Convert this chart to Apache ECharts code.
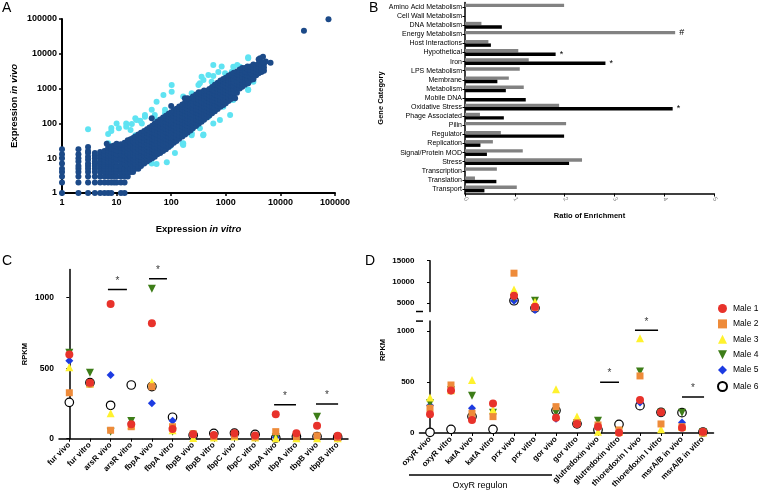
<!DOCTYPE html>
<html><head><meta charset="utf-8">
<script src="https://cdn.jsdelivr.net/npm/echarts@6/dist/echarts.min.js"></script>
<style>html,body{margin:0;padding:0;background:#fff}#c{width:760px;height:498px}</style>
</head><body><div id="c"></div>
<script>
const FONT = 'Liberation Sans, Arial, sans-serif';

// ---------- Panel A : expression in vitro vs in vivo (log-log) ----------
const aDarkCols = [
  [1, [1, 2, 3, 4, 5, 7, 10, 13, 18]],
  [2, [1, 2, 3, 4, 5, 6, 8, 10, 13, 18]],
  [3, [1, 2, 3, 4, 5, 6, 7, 9, 11, 14, 16, 21]],
  [4, [1, 2, 3, 4, 5, 6, 7, 8, 10, 12, 14]],
  [5, [1, 2, 3, 4, 5, 6, 7, 8, 10, 12, 15]],
  [6, [1, 2, 3, 4, 5, 6, 7, 8, 9, 11, 13, 16]],
  [7, [1, 2, 3, 4, 5, 6, 7, 8, 10, 12, 14, 17, 20]],
  [8, [1, 2, 3, 4, 5, 6, 7, 8, 10, 12, 15, 19, 22]],
  [9, [2, 3, 4, 5, 6, 7, 9, 11, 14, 18, 23]],
  [10, [2, 3, 4, 5, 6, 8, 10, 13, 17, 22, 26]],
  [12, [1, 2, 3, 4, 5, 6, 8, 10, 13, 16, 20, 25]],
  [14, [1, 2, 3, 4, 5, 7, 9, 12, 15, 19, 24, 28]],
  [16, [3, 4, 5, 6, 8, 10, 13, 16, 20, 26, 33]],
  [18, [4, 5, 7, 9, 11, 14, 18, 22, 28, 35]],
  [20, [4, 5, 6, 8, 10, 12, 15, 19, 24, 30, 38]],
  [22, [5, 6, 7, 9, 11, 14, 17, 21, 27, 34, 42]],
  [25, [5, 6, 8, 10, 12, 15, 19, 24, 30, 38, 48]],
  [28, [6, 7, 9, 11, 14, 17, 21, 27, 34, 43, 54]],
  [32, [7, 8, 10, 12, 15, 19, 24, 30, 38, 48, 60]],
  [36, [8, 10, 12, 14, 18, 22, 27, 34, 43, 54, 68]],
  [40, [9, 11, 13, 16, 20, 25, 31, 39, 49, 61, 76]],
  [45, [10, 12, 15, 19, 23, 29, 36, 45, 56, 70, 86]],
  [50, [11, 14, 17, 21, 26, 33, 41, 52, 65, 81, 100]],
  [56, [13, 16, 20, 25, 31, 38, 48, 60, 75, 94, 114]],
  [63, [14, 18, 22, 28, 35, 44, 55, 69, 86, 108, 130]],
  [71, [16, 20, 25, 32, 40, 50, 62, 78, 97, 122, 148]],
  [80, [18, 23, 29, 36, 45, 56, 70, 88, 110, 138, 165]],
  [90, [21, 26, 33, 41, 52, 65, 81, 101, 126, 158, 188]],
  [100, [24, 30, 38, 47, 59, 74, 93, 116, 145, 180, 210]],
  [112, [28, 35, 43, 54, 67, 84, 105, 131, 164, 205, 240]],
  [125, [31, 39, 49, 61, 76, 95, 119, 149, 186, 230, 265]],
  [140, [36, 45, 56, 70, 88, 110, 138, 172, 215, 265, 305]],
  [160, [42, 52, 65, 82, 102, 128, 160, 200, 250, 310, 350]],
  [180, [48, 60, 75, 94, 118, 148, 185, 231, 289, 355, 400]],
  [200, [55, 69, 86, 108, 135, 169, 211, 264, 330, 400, 450]],
  [225, [63, 79, 99, 124, 155, 194, 243, 304, 380, 460, 515]],
  [250, [73, 91, 114, 143, 179, 224, 280, 350, 437, 530, 590]],
  [285, [84, 105, 131, 164, 205, 256, 320, 400, 500, 610, 680]],
  [320, [98, 122, 153, 191, 239, 299, 374, 467, 584, 700, 780]],
  [360, [112, 140, 175, 219, 274, 342, 428, 535, 668, 790]],
  [400, [128, 160, 200, 250, 313, 391, 489, 611, 764, 880]],
  [450, [148, 185, 231, 289, 361, 451, 564, 705, 870]],
  [500, [170, 212, 265, 331, 414, 518, 647, 809, 980]],
  [560, [196, 245, 306, 383, 479, 599, 749, 936, 1120]],
  [630, [225, 281, 351, 439, 549, 686, 858, 1070, 1300]],
  [710, [260, 325, 406, 508, 635, 794, 992, 1240, 1480]],
  [800, [300, 375, 469, 586, 733, 916, 1145, 1430, 1700]],
  [900, [340, 425, 531, 664, 830, 1038, 1297, 1620, 1880]],
  [1000, [380, 475, 594, 743, 928, 1160, 1450, 1800, 2050]],
  [1120, [440, 550, 688, 860, 1075, 1344, 1680, 2050, 2330]],
  [1250, [500, 625, 781, 977, 1220, 1525, 1900, 2300, 2600]],
  [1400, [620, 775, 969, 1211, 1514, 1892, 2365, 2850]],
  [1600, [760, 950, 1063, 1328, 1660, 2075, 2590, 3100]],
  [1800, [1000, 1250, 1560, 1950, 2440, 3050, 3550]],
  [2000, [1125, 1406, 1758, 2197, 2746, 3400, 3900]],
  [2250, [1300, 1625, 2030, 2540, 3170, 3900]],
  [2500, [1500, 1875, 2344, 2930, 3600, 4300]],
  [2850, [1780, 2225, 2780, 3480, 4350]],
  [3200, [2060, 2580, 3220, 4030, 4900]],
  [3600, [2400, 3000, 3750, 4700]],
  [4000, [2750, 3440, 4300, 5300]],
  [4500, [3000, 3750, 4700]],
  [5000, [3250, 4060, 5100]]
];
const aDarkExtra = [[6.6, 26], [44, 140], [100, 316], [178, 525], [200, 525], [1480, 525],
  [2570, 1420], [3200, 1850], [4250, 7400], [4800, 8200], [4000, 7000], [5400, 6000],
  [4800, 5600], [6600, 5500], [27000, 46000], [76000, 98000]];
const aCyan = [
  [3, 68], [7, 50], [8, 60], [8, 74], [10, 100], [11, 72], [7, 27], [15, 80], [15, 100], [18, 65],
  [19, 96], [22, 140], [27, 120], [23, 125], [29, 100], [22, 46], [33, 155], [33, 174], [54, 125],
  [50, 174], [77, 195], [44, 245], [77, 245], [54, 420], [72, 650], [102, 810], [102, 1260],
  [166, 590], [237, 730], [315, 1260], [360, 2200], [480, 2450], [550, 1580], [590, 4800],
  [840, 4300], [970, 2750], [1290, 3070], [1820, 4260], [2570, 7400], [2570, 7900], [335, 1420],
  [390, 1780], [590, 2300], [730, 3000], [1370, 4270], [1620, 4750],
  [44, 7], [54, 6.8], [83, 7.6], [117, 14], [166, 27], [145, 52], [162, 26], [390, 48],
  [237, 46], [110, 33], [77, 19], [62, 33], [335, 72], [590, 100], [780, 125], [1200, 175],
  [1370, 470], [2570, 950], [2260, 1420], [3200, 1580], [2570, 910], [1200, 470], [900, 300],
  [480, 155], [145, 41], [385, 46], [238, 52], [95, 22], [166, 24]
];
const aDark = aDarkCols.flatMap(([x, ys]) => ys.map(y => [x, y])).concat(aDarkExtra);

// ---------- Panel B : ratio of enrichment ----------
const bCategories = ['Amino Acid Metabolism', 'Cell Wall Metabolism', 'DNA Metabolism', 'Energy Metabolism',
  'Host Interactions', 'Hypothetical', 'Iron', 'LPS Metabolism', 'Membrane', 'Metabolism', 'Mobile DNA',
  'Oxidative Stress', 'Phage Associated', 'Pilin', 'Regulator', 'Replication', 'Signal/Protein MOD',
  'Stress', 'Transcription', 'Translation', 'Transport'];
const bGrey = [1.99, 0, 0.33, 4.22, 0.47, 1.07, 1.28, 1.10, 0.88, 1.18, 0, 1.89, 0.30, 2.03, 0.72, 0.56, 1.16, 2.35, 0.64, 0.20, 1.04];
const bBlack = [0, 0, 0.74, 0, 0.52, 1.82, 2.82, 0, 0.65, 0.82, 1.22, 4.17, 0.78, 0, 1.99, 0.31, 0.44, 2.09, 0, 0.63, 0.39];
const bGreyMark = ['', '', '', '#', '', '', '', '', '', '', '', '', '', '', '', '', '', '', '', '', ''];
const bBlackMark = ['', '', '', '', '', '*', '*', '', '', '', '', '*', '', '', '', '', '', '', '', '', ''];

// ---------- Panel C : iron genes RPKM ----------
const cCategories = ['fur vivo', 'fur vitro', 'arsR vivo', 'arsR vitro', 'fbpA vivo', 'fbpA vitro', 'fbpB vivo',
  'fbpB vitro', 'fbpC vivo', 'fbpC vitro', 'tbpA vivo', 'tbpA vitro', 'tbpB vivo', 'tbpB vitro'];
const cMale1 = [598, 397, 955, 102, 818, 69, 31, 26, 38, 22, 173, 38, 92, 21];
const cMale2 = [326, 388, 60, 85, 369, 85, 35, 15, 20, 12, 50, 15, 21, 8];
const cMale3 = [506, 392, 180, 95, 400, 60, 5, 8, 15, 8, 3, 3, 3, 3];
const cMale4 = [610, 468, 50, 125, 1064, 50, 20, 12, 18, 10, 10, 8, 156, 8];
const cMale5 = [553, 395, 452, 110, 251, 128, 20, 12, 15, 8, 10, 8, 10, 5];
const cMale6 = [258, 397, 237, 381, 370, 152, 25, 38, 40, 30, 5, 15, 15, 10];
const cTicks = [0, 500, 1000];
const cSigFrom = [1.87, 3.86, 9.92, 11.95];
const cSigTo = [2.79, 4.73, 10.98, 13.02];
const cSigLevel = [1059, 1134, 241, 246];

// ---------- Panel D : oxidative stress genes RPKM ----------
const dCategories = ['oxyR vivo', 'oxyR vitro', 'katA vivo', 'katA vitro', 'prx vivo', 'prx vitro', 'gor vivo',
  'gor vitro', 'glutredoxin vivo', 'glutredoxin vitro', 'thioredoxin I vivo', 'thioredoxin I vitro',
  'msrA/B in vivo', 'msrA/B in vitro'];
const dMale1 = [184, 417, 128, 289, 6705, 4150, 151, 89, 62, 3, 325, 203, 52, 13];
const dMale2 = [243, 472, 194, 161, 12053, 3915, 259, 102, 79, 30, 561, 89, 62, 3];
const dMale3 = [348, 420, 521, 226, 8178, 5310, 430, 161, 13, 10, 932, 36, 60, 5];
const dMale4 = [292, 420, 367, 200, 6200, 5543, 200, 95, 121, 20, 604, 200, 200, 8];
const dMale5 = [270, 415, 243, 190, 5540, 3372, 140, 90, 50, 15, 299, 200, 102, 5];
const dMale6 = [7, 36, 161, 36, 5543, 3800, 220, 90, 30, 85, 269, 203, 200, 10];
const dLowTicks = [0, 500, 1000];
const dHighTicks = [5000, 10000, 15000];
const dBreakLow = 1100;   // top of lower segment
const dBreakHigh = 3000;  // bottom of upper segment
const dSigFrom = [8.1, 9.76, 12.0];
const dSigTo = [9.0, 10.86, 13.05];
const dSigLevel = [500, 1010, 354];

const maleNames = ['Male 1', 'Male 2', 'Male 3', 'Male 4', 'Male 5', 'Male 6'];
const cMales = [cMale1, cMale2, cMale3, cMale4, cMale5, cMale6];
const dMales = [dMale1, dMale2, dMale3, dMale4, dMale5, dMale6];

// ---------- styles ----------
const maleStyle = [
  { symbol: 'circle', size: 8, rot: 0, item: { color: '#e8322b', opacity: 1 } },
  { symbol: 'rect', size: 7, rot: 0, item: { color: '#ee8b3a', opacity: 1 } },
  { symbol: 'triangle', size: 8, rot: 0, item: { color: '#fff22e', opacity: 1 } },
  { symbol: 'triangle', size: 8, rot: 180, item: { color: '#3d7d18', opacity: 1 } },
  { symbol: 'diamond', size: 8, rot: 0, item: { color: '#1c3be2', opacity: 1 } },
  { symbol: 'circle', size: 8.5, rot: 0, item: { color: '#ffffff', borderColor: '#000', borderWidth: 1.2, opacity: 1 } }
];
const legendIcons = ['circle', 'rect', 'triangle', 'path://M0,0 L10,0 L5,10 Z', 'diamond', 'circle'];
const drawOrder = [5, 4, 3, 2, 1, 0];

const blackLine = w => ({ show: true, lineStyle: { color: '#000', width: w } });
const boldLabel = (size, extra) => Object.assign({ color: '#000', fontFamily: FONT, fontWeight: 'bold', fontSize: size }, extra || {});

const series = [];
// A
series.push({ type: 'scatter', xAxisIndex: 0, yAxisIndex: 0, data: aCyan, symbolSize: 6,
  itemStyle: { color: '#5fe3f2', opacity: 1 }, silent: true });
series.push({ type: 'scatter', xAxisIndex: 0, yAxisIndex: 0, data: aDark, symbolSize: 6,
  itemStyle: { color: '#1c4a88', opacity: 1 }, silent: true });
// B
const markLabel = m => m ? { show: true, position: 'right', distance: 4, formatter: m, color: '#000', fontSize: 9, fontFamily: FONT } : { show: false };
series.push({ type: 'bar', xAxisIndex: 1, yAxisIndex: 1, barWidth: 3.4, barGap: '0%',
  itemStyle: { color: '#828282' }, data: bGrey.map((v, i) => ({ value: v, label: markLabel(bGreyMark[i]) })) });
series.push({ type: 'bar', xAxisIndex: 1, yAxisIndex: 1, barWidth: 3.4, barGap: '0%',
  itemStyle: { color: '#000' }, data: bBlack.map((v, i) => ({ value: v, label: markLabel(bBlackMark[i]) })) });
// C and D points
drawOrder.forEach(k => {
  const st = maleStyle[k];
  series.push({ type: 'scatter', name: maleNames[k], xAxisIndex: 2, yAxisIndex: 2, data: cMales[k],
    symbol: st.symbol, symbolSize: st.size, symbolRotate: st.rot, itemStyle: st.item });
});
drawOrder.forEach(k => {
  const st = maleStyle[k];
  series.push({ type: 'scatter', name: maleNames[k], xAxisIndex: 6, yAxisIndex: 4,
    data: dMales[k].map(v => v <= dBreakLow ? v : '-'),
    symbol: st.symbol, symbolSize: st.size, symbolRotate: st.rot, itemStyle: st.item });
  series.push({ type: 'scatter', name: maleNames[k], xAxisIndex: 4, yAxisIndex: 3,
    data: dMales[k].map(v => v > dBreakLow ? v : '-'),
    symbol: st.symbol, symbolSize: st.size, symbolRotate: st.rot, itemStyle: st.item });
});
// significance bars
const starLabel = { show: true, position: 'top', distance: 3, formatter: '*', color: '#000', fontSize: 10, fontFamily: FONT };
const starSeries = (xi, yi, x, y) => ({ type: 'scatter', xAxisIndex: xi, yAxisIndex: yi, symbol: 'circle', symbolSize: 1,
  silent: true, clip: false, itemStyle: { color: 'rgba(0,0,0,0)' }, data: [[x, y]], label: starLabel });
cSigFrom.forEach((f, i) => {
  series.push({ type: 'line', xAxisIndex: 3, yAxisIndex: 2, symbol: 'none', silent: true,
    lineStyle: { color: '#000', width: 1.5 }, data: [[f, cSigLevel[i]], [cSigTo[i], cSigLevel[i]]] });
  series.push(starSeries(3, 2, (f + cSigTo[i]) / 2, cSigLevel[i]));
});
dSigFrom.forEach((f, i) => {
  series.push({ type: 'line', xAxisIndex: 7, yAxisIndex: 4, symbol: 'none', silent: true,
    lineStyle: { color: '#000', width: 1.5 }, data: [[f, dSigLevel[i]], [dSigTo[i], dSigLevel[i]]] });
  series.push(starSeries(7, 4, (f + dSigTo[i]) / 2, dSigLevel[i]));
});
// axis break marks
series.push({ type: 'scatter', xAxisIndex: 5, yAxisIndex: 3, symbol: 'rect', symbolSize: [7, 1.5], clip: false,
  silent: true, itemStyle: { color: '#000', opacity: 1 }, data: [[-0.5, dBreakHigh]] });
series.push({ type: 'scatter', xAxisIndex: 7, yAxisIndex: 4, symbol: 'rect', symbolSize: [7, 1.5], clip: false,
  silent: true, itemStyle: { color: '#000', opacity: 1 }, data: [[-0.5, dBreakLow]] });

const richName = size => ({ rich: {
  b: { fontFamily: FONT, fontWeight: 'bold', fontSize: size, color: '#000' },
  i: { fontFamily: FONT, fontWeight: 'bold', fontStyle: 'italic', fontSize: size, color: '#000' } } });
const logFmt = v => String(Math.round(v));
const plainFmt = v => String(v);

const option = {
  animation: false,
  backgroundColor: '#fff',
  textStyle: { fontFamily: FONT },
  grid: [
    { left: 62, top: 19, width: 273, height: 174 },
    { left: 465, top: 2.5, width: 249, height: 191 },
    { left: 59, top: 269.5, width: 289, height: 169.2 },
    { left: 419.5, top: 260.7, width: 294, height: 50.8 },
    { left: 419.5, top: 321.1, width: 294, height: 111.9 }
  ],
  xAxis: [
    { gridIndex: 0, type: 'log', logBase: 10, min: 1, max: 100000,
      axisLine: blackLine(2), axisTick: { show: true, length: 3, lineStyle: { color: '#000', width: 1.5 } },
      splitLine: { show: false }, minorTick: { show: false },
      axisLabel: boldLabel(9, { margin: 5, formatter: logFmt }),
      name: '{b|Expression }{i|in vitro}', nameLocation: 'middle', nameGap: 31, nameTextStyle: richName(9.5) },
    { gridIndex: 1, type: 'value', min: 0, max: 5, interval: 1,
      axisLine: blackLine(1.5), axisTick: { show: true, length: 3, lineStyle: { color: '#000' } },
      splitLine: { show: false },
      axisLabel: { color: '#888', fontSize: 6.5, rotate: -60, margin: 4, fontFamily: FONT },
      name: 'Ratio of Enrichment', nameLocation: 'middle', nameGap: 18,
      nameTextStyle: boldLabel(7.5) },
    { gridIndex: 2, type: 'category', data: cCategories,
      axisLine: blackLine(1.5), axisTick: { show: true, alignWithLabel: true, length: 3, lineStyle: { color: '#000' } },
      axisLabel: boldLabel(8, { rotate: 45, interval: 0, margin: 5 }) },
    { gridIndex: 2, type: 'value', min: -0.5, max: 13.5, show: false },
    { gridIndex: 3, type: 'category', data: dCategories, show: false },
    { gridIndex: 3, type: 'value', min: -0.5, max: 13.5, show: false },
    { gridIndex: 4, type: 'category', data: dCategories,
      axisLine: blackLine(1.5), axisTick: { show: true, alignWithLabel: true, length: 3, lineStyle: { color: '#000' } },
      axisLabel: boldLabel(8, { rotate: 45, interval: 0, margin: 5 }) },
    { gridIndex: 4, type: 'value', min: -0.5, max: 13.5, show: false }
  ],
  yAxis: [
    { gridIndex: 0, type: 'log', logBase: 10, min: 1, max: 100000,
      axisLine: blackLine(2), axisTick: { show: true, length: 3, lineStyle: { color: '#000', width: 1.5 } },
      splitLine: { show: false }, minorTick: { show: false },
      axisLabel: boldLabel(9, { margin: 5, formatter: logFmt }),
      name: '{b|Expression }{i|in vivo}', nameLocation: 'middle', nameGap: 43, nameRotate: 90, nameTextStyle: richName(9.5) },
    { gridIndex: 1, type: 'category', data: bCategories, inverse: true,
      axisLine: blackLine(1.5), axisTick: { show: true, alignWithLabel: true, length: 2.5, lineStyle: { color: '#000' } },
      axisLabel: { color: '#000', fontSize: 7, interval: 0, margin: 3, fontFamily: FONT },
      name: 'Gene Category', nameLocation: 'middle', nameGap: 74, nameRotate: 90,
      nameTextStyle: boldLabel(7.5) },
    { gridIndex: 2, type: 'value', min: 0, max: 1200,
      axisLine: blackLine(1.5), splitLine: { show: false },
      axisTick: { show: true, length: 3, customValues: cTicks, lineStyle: { color: '#000' } },
      axisLabel: boldLabel(8.5, { margin: 5, formatter: plainFmt, customValues: cTicks }),
      name: 'RPKM', nameLocation: 'middle', nameGap: 30, nameRotate: 90, nameTextStyle: boldLabel(7.5) },
    { gridIndex: 3, type: 'value', min: dBreakHigh, max: 15000,
      axisLine: blackLine(1.5), splitLine: { show: false },
      axisTick: { show: true, length: 3, customValues: dHighTicks, lineStyle: { color: '#000' } },
      axisLabel: boldLabel(8, { margin: 5, formatter: plainFmt, customValues: dHighTicks }) },
    { gridIndex: 4, type: 'value', min: 0, max: dBreakLow,
      axisLine: blackLine(1.5), splitLine: { show: false },
      axisTick: { show: true, length: 3, customValues: dLowTicks, lineStyle: { color: '#000' } },
      axisLabel: boldLabel(8, { margin: 5, formatter: plainFmt, customValues: dLowTicks }) }
  ],
  legend: { show: true, orient: 'vertical', left: 712, top: 299, itemWidth: 9, itemHeight: 9, itemGap: 6.4,
    selectedMode: false, data: maleNames.map((n, k) => ({ name: n, icon: legendIcons[k] })),
    textStyle: { fontSize: 8.5, fontFamily: FONT, color: '#000', lineHeight: 9, padding: [0, 0, 0, 1] } },
  graphic: [
    { type: 'text', left: 2, top: 1, style: { text: 'A', font: '14px ' + FONT, fill: '#000' } },
    { type: 'text', left: 369, top: 1, style: { text: 'B', font: '14px ' + FONT, fill: '#000' } },
    { type: 'text', left: 2, top: 254, style: { text: 'C', font: '14px ' + FONT, fill: '#000' } },
    { type: 'text', left: 365, top: 254, style: { text: 'D', font: '14px ' + FONT, fill: '#000' } },
    { type: 'text', x: 383, y: 350, rotation: Math.PI / 2,
      style: { text: 'RPKM', font: 'bold 7.5px ' + FONT, fill: '#000', align: 'center', verticalAlign: 'middle' } },
    { type: 'line', shape: { x1: 409, y1: 475, x2: 552, y2: 475 }, style: { stroke: '#000', lineWidth: 1.5 } },
    { type: 'text', x: 480, y: 486, style: { text: 'OxyR regulon', font: '9px ' + FONT, fill: '#000', align: 'center', verticalAlign: 'middle' } }
  ],
  series: series
};

const chart = echarts.init(document.getElementById('c'), null, { renderer: 'canvas' });
chart.setOption(option);
</script></body></html>
